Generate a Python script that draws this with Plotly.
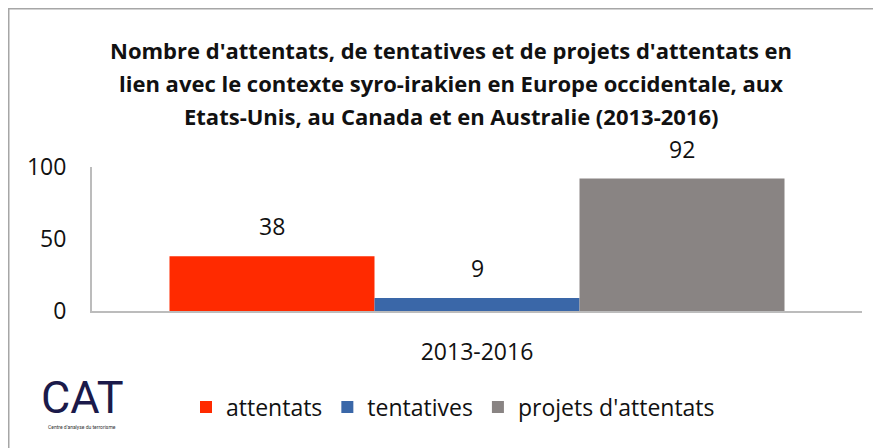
import plotly.graph_objects as go

# Data
period = "2013-2016"
series = ["attentats", "tentatives", "projets d'attentats"]
values = [38, 9, 92]
colors = ["#FF2A00", "#3A67A8", "#898483"]
offsets = [-1, 0, 1]  # position of each series inside the single category

title_lines = [
    "Nombre d'attentats, de tentatives et de projets d'attentats en",
    "lien avec le contexte syro-irakien en Europe occidentale, aux",
    "Etats-Unis, au Canada et en Australie (2013-2016)",
]

# the page body has an 8px margin, so the figure starts at (8, 8) on screen
W, H = 873, 440
L, R, T, B = 84, 19, 159, 137
plot_w, plot_h = W - L - R, H - T - B


def px_x(px):
    # screen pixel -> paper coordinate
    return (px - 8 - L) / plot_w


def px_y(py):
    return (H - B - (py - 8)) / plot_h


FONT = "Open Sans"

fig = go.Figure()
for name, off, val, col in zip(series, offsets, values, colors):
    fig.add_trace(go.Bar(
        x=[off], y=[val], name=name, width=1,
        marker_color=col, marker_line_width=0,
    ))
    fig.add_annotation(
        x=off, y=val, xref="x", yref="y", text=str(val), showarrow=False,
        yanchor="bottom", yshift=12,
        font=dict(family=FONT, size=23, color="#111"),
    )

# title, one annotation per line
for i, line in enumerate(title_lines):
    fig.add_annotation(
        x=px_x(451), y=px_y(50 + 33 * i), xref="paper", yref="paper",
        text="<b>" + line + "</b>", showarrow=False,
        xanchor="center", yanchor="middle",
        font=dict(family=FONT, size=22, color="#111"),
    )

# CAT logo
fig.add_annotation(
    x=px_x(82), y=px_y(397), xref="paper", yref="paper", text="CAT",
    showarrow=False, xanchor="center", yanchor="middle",
    font=dict(family="Liberation Sans Narrow, Roboto", size=45, color="#1b1a4a"),
)
fig.add_annotation(
    x=px_x(82), y=px_y(427), xref="paper", yref="paper",
    text="Centre d'analyse du terrorisme", showarrow=False,
    xanchor="center", yanchor="middle",
    font=dict(family="Roboto", size=5, color="#333"),
)

# chart border (left and top edges visible, the rest is cut by the window)
fig.add_shape(
    type="rect", xref="paper", yref="paper",
    x0=px_x(8.75), x1=px_x(920), y0=px_y(8.75), y1=px_y(480),
    line=dict(color="#a6a6a6", width=1.5), fillcolor="rgba(0,0,0,0)",
)

fig.update_layout(
    width=W, height=H,
    margin=dict(l=L, r=R, t=T, b=B),
    paper_bgcolor="white", plot_bgcolor="white",
    barmode="overlay",
    showlegend=True,
    legend=dict(
        orientation="h", x=px_x(453), y=px_y(407),
        xanchor="center", yanchor="middle",
        font=dict(family=FONT, size=23, color="#111"),
        itemwidth=30,
    ),
    font=dict(family=FONT, size=23, color="#111"),
)
fig.update_xaxes(
    range=[-1.878, 1.878], tickvals=[0], ticktext=[period],
    showline=True, linecolor="#bcbcbc", linewidth=2,
    ticks="outside", ticklen=19, tickcolor="rgba(0,0,0,0)",
    showgrid=False, zeroline=False, fixedrange=True,
)
fig.update_yaxes(
    range=[0, 100], tickvals=[0, 50, 100],
    showline=True, linecolor="#bcbcbc", linewidth=2,
    ticks="outside", ticklen=19, tickcolor="rgba(0,0,0,0)",
    showgrid=False, zeroline=False, fixedrange=True,
)

fig.write_html("out.html", config={"displayModeBar": False})
